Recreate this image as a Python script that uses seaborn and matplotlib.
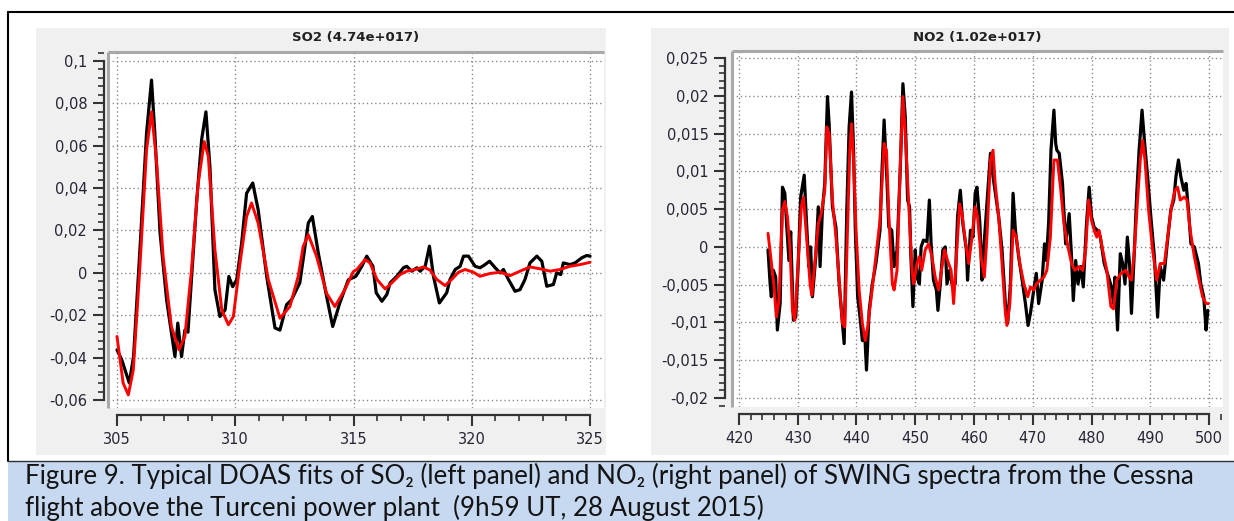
import numpy as np
import pandas as pd
import matplotlib
matplotlib.use("Agg")
import matplotlib.pyplot as plt
import seaborn as sns
from matplotlib.patches import Rectangle
from matplotlib.lines import Line2D
from matplotlib.ticker import AutoMinorLocator

sns.set_style("white")
plt.rcParams['font.family'] = ['DejaVu Sans']

# SO2 fit: measured (black) and fitted (red) optical depth
so2_wl_meas = [305.0, 305.2, 305.52, 305.7, 305.97, 306.25, 306.46, 306.6, 306.82, 307.1,
               307.45, 307.57, 307.73, 307.87, 308.0, 308.37, 308.58, 308.76, 308.93, 309.14,
               309.35, 309.57, 309.73, 309.89, 310.06, 310.27, 310.48, 310.74, 310.97, 311.33,
               311.68, 311.89, 312.17, 312.38, 312.73, 313.09, 313.26, 313.51, 313.86, 314.12,
               314.42, 314.78, 315.1, 315.35, 315.56, 315.82, 315.96, 316.2, 316.41, 316.55,
               316.83, 317.11, 317.25, 317.46, 317.68, 317.82, 318.03, 318.21, 318.38, 318.63,
               318.94, 319.08, 319.3, 319.51, 319.65, 319.86, 320.14, 320.35, 320.56, 320.75,
               320.99, 321.2, 321.34, 321.55, 321.83, 322.04, 322.25, 322.46, 322.75, 322.96,
               323.17, 323.45, 323.59, 323.76, 323.87, 324.15, 324.37, 324.65, 324.86, 325.0]
so2_meas = [-0.0363, -0.041, -0.052, -0.0395, 0.011, 0.066, 0.091, 0.066, 0.019, -0.013,
            -0.0395, -0.0237, -0.0395, -0.027, -0.028, 0.034, 0.063, 0.076, 0.050, -0.008,
            -0.0206, -0.0175, -0.0017, -0.0065, -0.0033, 0.014, 0.0376, 0.0424, 0.0297, -0.0017,
            -0.026, -0.027, -0.015, -0.0127, -0.0047, 0.0236, 0.0266, 0.0094, -0.011, -0.0253,
            -0.0142, -0.0033, -0.0016, 0.0031, 0.0079, 0.0031, -0.0094, -0.0134, -0.0102, -0.0047,
            -0.0016, 0.0024, 0.0031, 0.0008, 0.0024, 0.0008, 0.0031, 0.0126, -0.0016, -0.0142,
            -0.0094, -0.0031, 0.0016, 0.0031, 0.0079, 0.0079, 0.0031, 0.0024, 0.0039, 0.0055,
            0.0024, 0.0, 0.0016, -0.0031, -0.0087, -0.0079, -0.0031, 0.0047, 0.0079, 0.0055,
            -0.0063, -0.0055, 0.0, -0.0008, 0.0047, 0.0039, 0.0047, 0.0071, 0.0082, 0.0079]
so2_wl_fit = [305.0, 305.26, 305.48, 305.69, 305.97, 306.25, 306.46, 306.67, 306.95, 307.3,
              307.62, 307.87, 308.15, 308.43, 308.69, 308.86, 309.14, 309.43, 309.71, 309.92,
              310.2, 310.48, 310.69, 310.97, 311.4, 311.89, 312.31, 312.66, 312.87, 313.09,
              313.44, 313.86, 314.21, 314.63, 314.99, 315.14, 315.49, 315.7, 315.99, 316.34,
              316.62, 316.97, 317.25, 317.61, 317.96, 318.24, 318.52, 318.87, 319.15, 319.44,
              319.72, 320.07, 320.35, 320.77, 321.2, 321.62, 322.04, 322.46, 322.89, 323.31,
              323.73, 324.15, 324.58, 325.0]
so2_fit = [-0.030, -0.052, -0.0576, -0.0458, 0.003, 0.058, 0.076, 0.053, 0.0077, -0.0253,
           -0.0363, -0.030, 0.0014, 0.042, 0.062, 0.055, 0.011, -0.0175, -0.0245, -0.0206,
           0.0045, 0.0266, 0.033, 0.0234, -0.0033, -0.0214, -0.0159, -0.0017, 0.0124, 0.018,
           0.0077, -0.0096, -0.0159, -0.008, 0.0006, 0.0016, 0.0063, 0.0047, -0.0031, -0.0076,
           -0.0047, -0.0008, 0.0008, 0.0016, 0.0028, 0.0013, -0.0031, -0.006, -0.0031, 0.0003,
           0.0016, 0.0003, -0.0016, -0.0003, 0.0003, -0.0013, 0.0008, 0.0028, 0.0019, 0.0008,
           0.0016, 0.0031, 0.0039, 0.005]

# NO2 fit
no2_wl_meas = [424.94, 425.3, 425.5, 425.85, 426.25, 426.53, 427.0, 427.4, 427.8, 428.1,
               428.5, 428.8, 429.26, 429.66, 430.06, 430.5, 431.1, 431.5, 431.9, 432.2,
               432.5, 433.07, 433.5, 433.8, 434.2, 434.6, 435.06, 435.34, 435.9, 436.5,
               437.05, 437.6, 437.9, 438.35, 438.75, 439.15, 439.5, 439.8, 440.2, 440.6,
               441.0, 441.4, 441.7, 442.16, 442.7, 443.3, 444.0, 444.3, 444.7, 445.2,
               445.5, 446.0, 446.4, 446.9, 447.44, 447.9, 448.3, 448.7, 449.03, 449.26,
               449.6, 450.0, 450.3, 450.7, 451.0, 451.4, 452.0, 452.4, 452.7, 453.1,
               453.6, 453.86, 454.26, 454.7, 455.1, 455.4, 455.85, 456.25, 456.8, 457.2,
               457.67, 458.1, 458.7, 458.9, 459.4, 459.83, 460.2, 460.5, 461.0, 461.36,
               461.65, 462.2, 462.8, 463.24, 463.8, 464.2, 464.77, 465.34, 465.74, 466.2,
               466.65, 467.05, 467.6, 468.2, 468.75, 469.2, 469.6, 470.17, 470.6, 471.0,
               471.6, 472.0, 472.3, 472.7, 473.1, 473.6, 473.9, 474.1, 474.5, 475.06,
               475.6, 476.2, 476.6, 476.9, 477.3, 477.7, 478.2, 478.6, 479.15, 479.6,
               480.0, 480.45, 481.0, 481.5, 482.16, 482.7, 483.4, 483.75, 484.0, 484.43,
               484.9, 485.3, 485.7, 486.1, 486.5, 486.8, 487.3, 487.7, 488.1, 488.6,
               489.0, 489.55, 490.1, 490.7, 491.25, 491.7, 492.27, 493.0, 493.5, 494.0,
               494.37, 494.8, 495.2, 495.7, 496.1, 496.5, 496.93, 497.5, 498.2, 498.6,
               499.1, 499.5, 499.8]
no2_meas = [-0.0004, -0.0049, -0.0066, -0.0031, -0.004, -0.011, -0.0075, 0.0079, 0.0071, 0.0031,
            -0.0018, 0.002, -0.0097, -0.0093, -0.0026, 0.0066, 0.0095, 0.0031, -0.0026, 0.0,
            -0.0066, -0.0013, 0.0053, -0.0026, 0.0049, 0.0084, 0.0199, 0.0163, 0.0053, 0.0026,
            -0.0049, -0.0101, -0.0128, 0.0049, 0.0159, 0.0205, 0.0128, 0.0022, -0.0066, -0.0093,
            -0.0124, -0.0115, -0.0163, -0.0084, -0.0049, -0.0022, 0.0022, 0.0093, 0.0168, 0.0085,
            0.0026, 0.0022, -0.0026, -0.0004, 0.0101, 0.0216, 0.0172, 0.0062, 0.0053, -0.0013,
            -0.0079, -0.0004, -0.004, -0.0049, 0.0, 0.0009, 0.0007, 0.0062, 0.0004, -0.0044,
            -0.0057, -0.0084, -0.0049, -0.0004, 0.0, -0.0049, -0.0031, -0.0049, -0.0049, 0.004,
            0.0075, 0.0031, -0.0004, -0.0044, 0.0022, 0.0013, 0.0071, 0.0079, 0.0031, -0.0044,
            -0.0004, 0.0057, 0.0124, 0.0093, 0.0062, 0.004, -0.0004, -0.0075, -0.0101, -0.0049,
            0.0071, 0.0022, -0.0013, -0.0044, -0.0075, -0.0104, -0.0088, -0.0057, -0.0035, -0.0075,
            -0.0044, 0.0004, -0.0018, 0.0031, 0.0128, 0.0181, 0.0137, 0.0128, 0.0124, 0.0084,
            0.0004, 0.0044, -0.0013, -0.0071, -0.0018, -0.0049, -0.0026, -0.0053, 0.0031, 0.0079,
            0.004, 0.0026, 0.0022, 0.0013, -0.0022, -0.0035, -0.0053, -0.0075, -0.004, -0.011,
            -0.0009, -0.0022, -0.0049, 0.0013, -0.0026, -0.0088, -0.0004, 0.0071, 0.0128, 0.0181,
            0.0141, 0.0093, 0.004, -0.0013, -0.0093, -0.0026, -0.0044, 0.0013, 0.0049, 0.0062,
            0.0093, 0.0115, 0.0093, 0.0075, 0.0084, 0.0049, 0.0004, 0.0, -0.0022, -0.0049,
            -0.0066, -0.011, -0.0084]
no2_wl_fit = [424.94, 425.4, 425.97, 426.36, 426.8, 427.4, 427.8, 428.24, 428.7, 429.1,
              429.5, 430.06, 430.6, 430.97, 431.5, 432.1, 432.4, 432.9, 433.5, 434.0,
              434.6, 434.94, 435.34, 435.9, 436.5, 437.05, 437.6, 438.0, 438.5, 438.86,
              439.15, 439.5, 439.9, 440.45, 441.0, 441.5, 441.9, 442.44, 443.3, 444.0,
              444.7, 445.1, 445.56, 446.1, 446.4, 446.9, 447.44, 447.9, 448.3, 448.86,
              449.4, 449.7, 450.3, 450.7, 451.1, 451.7, 452.27, 452.84, 453.4, 453.98,
              454.55, 455.0, 455.5, 456.1, 456.53, 457.0, 457.56, 457.95, 458.5, 459.1,
              459.66, 460.2, 460.6, 461.2, 461.76, 462.2, 462.8, 463.24, 463.6, 464.2,
              464.77, 465.34, 465.6, 466.1, 466.65, 467.2, 467.8, 468.5, 469.15, 469.6,
              470.17, 470.6, 471.3, 471.9, 472.4, 473.0, 473.6, 474.2, 474.77, 475.3,
              476.0, 476.6, 477.16, 477.9, 478.5, 479.0, 479.5, 480.0, 480.45, 480.9,
              481.3, 481.9, 482.6, 483.3, 483.75, 484.3, 485.0, 485.85, 486.4, 486.8,
              487.3, 487.84, 488.3, 488.7, 489.1, 489.66, 490.4, 491.1, 491.7, 492.4,
              493.1, 493.6, 494.2, 494.66, 495.1, 495.8, 496.25, 496.8, 497.5, 498.2,
              498.9, 499.5, 499.9]
no2_fit = [0.0018, -0.0013, -0.0053, -0.0093, -0.0071, 0.0049, 0.006, 0.004, -0.0004, -0.0084,
           -0.0097, -0.0022, 0.0053, 0.0066, 0.0013, -0.0049, -0.0064, -0.0022, 0.0031, 0.0044,
           0.0075, 0.0159, 0.015, 0.0062, 0.0013, -0.0044, -0.0101, -0.0106, 0.0031, 0.0128,
           0.0163, 0.0115, 0.0026, -0.0057, -0.0101, -0.0124, -0.0106, -0.0071, -0.0013, 0.0035,
           0.0137, 0.0128, 0.0031, -0.0049, -0.0057, -0.0031, 0.0106, 0.0199, 0.015, 0.0062,
           -0.0026, -0.0049, -0.0022, -0.0013, -0.0031, -0.0004, 0.0004, -0.0013, -0.004, -0.0057,
           -0.0026, -0.0004, -0.0018, -0.0031, -0.0075, -0.0013, 0.0057, 0.0044, 0.0009, -0.0022,
           0.0013, 0.0053, 0.004, -0.0013, -0.004, 0.0013, 0.0115, 0.0128, 0.0084, 0.004,
           -0.0022, -0.0088, -0.0104, -0.0075, 0.0022, 0.0013, -0.0022, -0.0049, -0.0066, -0.0053,
           -0.0057, -0.0049, -0.0044, -0.004, -0.0031, 0.0013, 0.0115, 0.0115, 0.0075, 0.0031,
           0.0, -0.0022, -0.0031, -0.0026, -0.0031, -0.0004, 0.0062, 0.0035, 0.0022, 0.0013,
           0.0022, -0.0004, -0.0031, -0.0079, -0.0082, -0.0044, -0.0035, -0.0031, -0.004, -0.0044,
           -0.0004, 0.0062, 0.0115, 0.0141, 0.0115, 0.0053, -0.0004, -0.0044, -0.0022, -0.0022,
           0.0022, 0.0053, 0.0075, 0.0079, 0.0062, 0.0066, 0.0062, 0.0022, -0.0013, -0.004,
           -0.0066, -0.0075, -0.0075]

so2_xticks = [305, 310, 315, 320, 325]
so2_yticks = [-0.06, -0.04, -0.02, 0, 0.02, 0.04, 0.06, 0.08, 0.1]
so2_yticklabels = ['-0,06', '-0,04', '-0,02', '0', '0,02', '0,04', '0,06', '0,08', '0,1']
no2_xticks = [420, 430, 440, 450, 460, 470, 480, 490, 500]
no2_yticks = [-0.02, -0.015, -0.01, -0.005, 0, 0.005, 0.01, 0.015, 0.02, 0.025]
no2_yticklabels = ['-0,02', '-0,015', '-0,01', '-0,005', '0', '0,005', '0,01', '0,015', '0,02', '0,025']

W, H = 1234, 521
fig = plt.figure(figsize=(W / 100, H / 100), dpi=100)
fig.patch.set_facecolor('white')


def fx(px):
    return px / W


def fy(py):
    return 1 - py / H


def add_rect(x0, y0, x1, y1, color):
    fig.patches.append(Rectangle((fx(x0), fy(y1)), fx(x1) - fx(x0), fy(y0) - fy(y1),
                                 transform=fig.transFigure, facecolor=color,
                                 edgecolor='none', zorder=0))


# panel backgrounds and caption box
add_rect(36, 28, 606, 455, '#f0f0f0')
add_rect(651, 28, 1229, 455, '#f0f0f0')
add_rect(8, 461, 1234, 521, '#c6d9f1')
fig.lines.append(Line2D([fx(8), fx(1234)], [fy(12), fy(12)], transform=fig.transFigure, color='black', lw=1.5))
fig.lines.append(Line2D([fx(8), fx(8)], [fy(12), fy(461)], transform=fig.transFigure, color='black', lw=1.5))
fig.lines.append(Line2D([fx(8), fx(1234)], [fy(461), fy(461)], transform=fig.transFigure, color='#303030', lw=1.0))

tick_color = '#252535'
axis_color = '#333333'


def make_panel(box, wl_m, meas, wl_f, fit, xlim, ylim, xticks, yticks, yticklabels,
               xminor, yminor, title, yoff, xoff):
    x0, y0, x1, y1 = box
    ax = fig.add_axes([fx(x0), fy(y1), fx(x1) - fx(x0), fy(y0) - fy(y1)])
    ax.set_zorder(3)
    ax.set_facecolor('white')
    meas_df = pd.DataFrame({'wl': wl_m, 'od': meas})
    fit_df = pd.DataFrame({'wl': wl_f, 'od': fit})
    sns.lineplot(data=meas_df, x='wl', y='od', ax=ax, color='black', lw=2.3,
                 sort=False, estimator=None, zorder=3)
    sns.lineplot(data=fit_df, x='wl', y='od', ax=ax, color='#ff0000', lw=2.1,
                 sort=False, estimator=None, zorder=4)
    ax.set_xlim(*xlim)
    ax.set_ylim(*ylim)
    ax.set_xlabel('')
    ax.set_ylabel('')
    ax.set_xticks(xticks)
    ax.set_yticks(yticks)
    ax.set_yticklabels(yticklabels)
    ax.xaxis.set_minor_locator(AutoMinorLocator(xminor))
    ax.yaxis.set_minor_locator(AutoMinorLocator(yminor))
    ax.grid(True, which='major', color='#8a8a8a', ls=(0, (1, 2)), lw=1.0)
    for s in ['top', 'right']:
        ax.spines[s].set_visible(False)
    ax.spines['left'].set_position(('outward', yoff))
    ax.spines['bottom'].set_position(('outward', xoff))
    ax.spines['left'].set_bounds(yticks[0], yticks[-1])
    ax.spines['bottom'].set_bounds(xticks[0], xticks[-1])
    for s in ['left', 'bottom']:
        ax.spines[s].set_color(axis_color)
        ax.spines[s].set_linewidth(1.6)
    ax.tick_params(which='both', bottom=True, left=True, top=False, right=False)
    ax.tick_params(which='major', direction='out', length=8, width=1.5, color=axis_color,
                   labelsize=10.5, labelcolor=tick_color, pad=4)
    ax.tick_params(which='minor', direction='out', length=4.5, width=1.2, color=axis_color)
    # sunken frame on top and left of the plotting area
    ax.plot([0, 1], [1, 1], transform=ax.transAxes, color='#a8a8a8', lw=2.2,
            clip_on=False, zorder=5, solid_capstyle='butt')
    ax.plot([0, 0], [0, 1], transform=ax.transAxes, color='#a8a8a8', lw=2.2,
            clip_on=False, zorder=5, solid_capstyle='butt')
    fig.text(fx((x0 + x1) / 2), fy(37), title, ha='center', va='center',
             fontsize=9.5, fontweight='bold', color='#202020')
    return ax


make_panel((108, 52, 604, 408), so2_wl_meas, so2_meas, so2_wl_fit, so2_fit,
           (304.62, 325.59), (-0.06378, 0.10425), so2_xticks, so2_yticks, so2_yticklabels,
           5, 5, 'SO2 (4.74e+017)', 3, 5)
make_panel((732, 51, 1223, 407), no2_wl_meas, no2_meas, no2_wl_fit, no2_fit,
           (418.81, 502.38), (-0.02119, 0.02593), no2_xticks, no2_yticks, no2_yticklabels,
           5, 5, 'NO2 (1.02e+017)', 5, 5)

cap_font = ['Lato', 'DejaVu Sans']
fig.text(fx(25), fy(476), 'Figure 9. Typical DOAS fits of SO\u2082 (left panel) and NO\u2082 (right panel) '
         'of SWING spectra from the Cessna', ha='left', va='center', fontsize=18.6,
         family=cap_font, color='#141414')
fig.text(fx(25), fy(508), 'flight above the Turceni power plant  (9h59 UT, 28 August 2015)',
         ha='left', va='center', fontsize=18.6, family=cap_font, color='#141414')

fig.savefig('out.png', dpi=100)
